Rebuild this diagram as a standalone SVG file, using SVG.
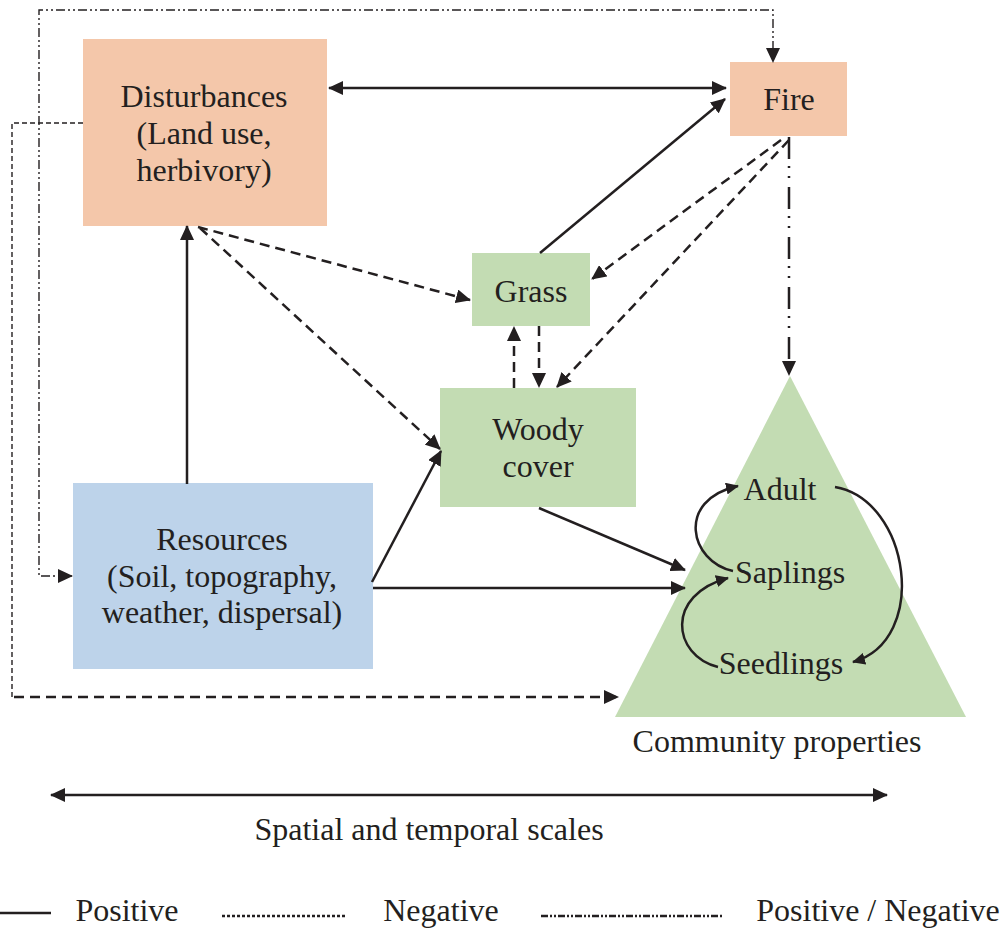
<svg xmlns="http://www.w3.org/2000/svg" width="1004" height="928" viewBox="0 0 1004 928">
<defs>
<style>
text{font-family:"Liberation Serif","Times New Roman",serif;font-size:32px;fill:#231f20;text-anchor:middle}
.peach{fill:#f4c7aa}
.green{fill:#c3dcb3}
.blue{fill:#bdd3ea}
.c{fill:none;stroke:#231f20;stroke-width:2.5}
.dash{stroke-dasharray:10 6}
.dd{stroke-dasharray:22 7 2 8 2 9}
.thin{stroke-width:1.4}
.fdash{stroke-dasharray:5 3}
.fdd{stroke-dasharray:9 3 2 3 2 3}
</style>
<marker id="ah" markerUnits="userSpaceOnUse" markerWidth="16" markerHeight="14" refX="14" refY="7" orient="auto-start-reverse" viewBox="0 0 16 14">
<path d="M0,0 L15,7 L0,14 z" fill="#231f20"/>
</marker>
<marker id="ahs" markerUnits="userSpaceOnUse" markerWidth="14" markerHeight="12" refX="12" refY="6" orient="auto-start-reverse" viewBox="0 0 14 12">
<path d="M0,0 L13,6 L0,12 z" fill="#231f20"/>
</marker>
</defs>
<rect width="1004" height="928" fill="#fff"/>

<g id="disturbances">
<rect class="peach" x="83" y="39" width="244" height="187"/>
<text x="204" y="107">Disturbances</text>
<text x="204" y="144">(Land use,</text>
<text x="204" y="181">herbivory)</text>
</g>
<g id="fire">
<rect class="peach" x="730" y="62" width="117" height="74"/>
<text x="789" y="110">Fire</text>
</g>
<g id="grass">
<rect class="green" x="472" y="253" width="118" height="73"/>
<text x="531" y="302">Grass</text>
</g>
<g id="woody">
<rect class="green" x="440" y="388" width="196" height="119"/>
<text x="538" y="440">Woody</text>
<text x="538" y="477">cover</text>
</g>
<g id="resources">
<rect class="blue" x="73" y="483" width="300" height="186"/>
<text x="222" y="550">Resources</text>
<text x="222" y="587">(Soil, topography,</text>
<text x="222" y="623">weather, dispersal)</text>
</g>
<g id="community">
<polygon class="green" points="790,376 966,717 615,717"/>
<text x="780" y="500">Adult</text>
<text x="790" y="583">Saplings</text>
<text x="781" y="674">Seedlings</text>
<text x="777" y="752">Community properties</text>
</g>

<g id="connectors">
<line class="c" x1="329" y1="88" x2="726" y2="88" marker-start="url(#ah)" marker-end="url(#ah)"/>
<line class="c" x1="540" y1="253" x2="725" y2="99" marker-end="url(#ah)"/>
<line class="c" x1="187" y1="484" x2="187" y2="226" marker-end="url(#ah)"/>
<line class="c dash" x1="198" y1="227" x2="470" y2="300" marker-end="url(#ah)"/>
<line class="c dash" x1="200" y1="228" x2="440" y2="449" marker-end="url(#ah)"/>
<line class="c dash" x1="781" y1="140" x2="592" y2="279" marker-end="url(#ah)"/>
<line class="c dash" x1="789" y1="140" x2="557" y2="387" marker-end="url(#ah)"/>
<line class="c dash" x1="514" y1="388" x2="514" y2="327" marker-end="url(#ah)"/>
<line class="c dash" x1="539" y1="326" x2="539" y2="387" marker-end="url(#ah)"/>
<line class="c dd" x1="789" y1="137" x2="789" y2="375" marker-end="url(#ah)"/>
<line class="c" x1="372" y1="582" x2="441" y2="451" marker-end="url(#ah)"/>
<line class="c" x1="373" y1="588" x2="685" y2="588" marker-end="url(#ah)"/>
<line class="c" x1="539" y1="508" x2="685" y2="570" marker-end="url(#ah)"/>
<path class="c thin fdd" d="M72,576 H39 V10 H773 V62" marker-start="url(#ah)" marker-end="url(#ah)"/>
<path class="c thin fdash" d="M83,123 H12 V697"/>
<line class="c dash" x1="14" y1="697" x2="618" y2="697" marker-end="url(#ah)"/>
<path class="c" stroke-width="2.2" d="M733,571 C690,562 675,500 738,486" marker-end="url(#ahs)"/>
<path class="c" stroke-width="2.2" d="M718,667 C672,655 665,595 728,578" marker-end="url(#ahs)"/>
<path class="c" stroke-width="2.2" d="M835,487 C910,500 930,640 853,662" marker-end="url(#ahs)"/>
<line class="c" x1="51" y1="795" x2="887" y2="795" marker-start="url(#ah)" marker-end="url(#ah)"/>
</g>

<g id="scale-label">
<text x="429" y="840">Spatial and temporal scales</text>
</g>

<g id="legend">
<line class="c" stroke-width="2" x1="0" y1="913" x2="51" y2="913"/>
<text x="127" y="921">Positive</text>
<line class="c" stroke-width="1" stroke-dasharray="3 2" x1="222" y1="916" x2="345" y2="916"/>
<text x="441" y="921">Negative</text>
<line class="c" stroke-width="1" stroke-dasharray="7 2 2 2 2 2" x1="541" y1="916" x2="722" y2="916"/>
<text x="878" y="921">Positive / Negative</text>
</g>
</svg>
